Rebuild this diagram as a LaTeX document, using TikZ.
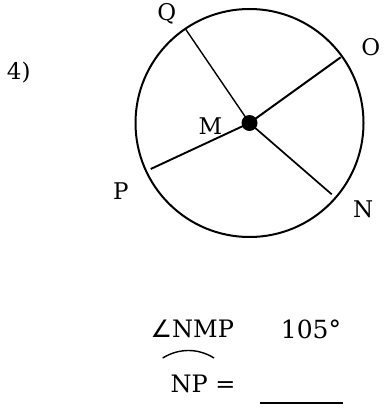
\documentclass[tikz,border=0pt]{standalone}
\usepackage{fontspec}
\setmainfont{DejaVu Serif}
\newfontfamily\symfont{DejaVu Sans}
\begin{document}
\begin{tikzpicture}[x=1pt,y=-1pt,
  lbl/.style={inner sep=0pt,font=\fontsize{23}{27}\selectfont},
  big/.style={inner sep=0pt,font=\fontsize{24}{28}\selectfont}]
\useasboundingbox (0,0) rectangle (390,414);
\coordinate (C) at (249.5,123);
\draw[line width=2pt] (C) circle[radius=114];
\coordinate (Q) at (185.7,29.3);
\coordinate (O) at (340.7,57.3);
\coordinate (P) at (150.7,169);
\coordinate (N) at (331.7,194.3);
\draw[line width=1.4pt] (C) -- (Q);
\draw[line width=2pt] (C) -- (O);
\draw[line width=1.9pt] (C) -- (P);
\draw[line width=1.7pt] (C) -- (N);
\fill (C) circle[radius=8];
\node[lbl,anchor=base] (lQ) at (166.7,20.7) {Q};
\node[lbl,anchor=base] (lO) at (370.8,55.7) {O};
\node[lbl,anchor=base] (l4) at (18.7,80) {4)};
\node[lbl,anchor=base] (lM) at (210.5,135) {M};
\node[lbl,anchor=base] (lP) at (120.8,199.3) {P};
\node[lbl,anchor=base] (lN) at (363.3,217.3) {N};
\node[big,anchor=base west] (ang) at (150.5,337.3) {{\symfont ∠}NMP};
\node[big,anchor=base west,font=\fontsize{25}{30}\selectfont] (deg) at (280.7,338.3) {105°};
\node[big,anchor=base west] (np) at (170.5,392.7) {NP =};
\coordinate (a1) at (162.7,358);
\coordinate (a2) at (214,358);
\draw[line width=1.4pt] (a1) .. controls (179,348) and (198,348) .. (a2);
\coordinate (u1) at (260,403.3);
\coordinate (u2) at (342.7,403.3);
\draw[line width=2.2pt] (u1) -- (u2);
\end{tikzpicture}
\end{document}
